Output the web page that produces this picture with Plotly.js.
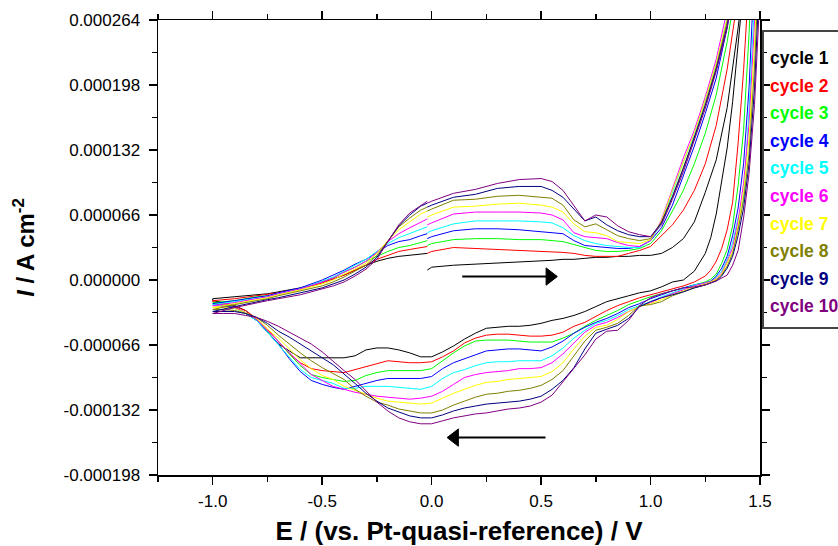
<!DOCTYPE html>
<html><head><meta charset="utf-8">
<script src="https://cdn.plot.ly/plotly-3.0.1.min.js"></script>
<style>html,body{margin:0;padding:0;background:#fff;} #chart{width:838px;height:546px;}</style>
</head><body><div id="chart"></div>
<script>
// ---- data (potential in V, current density in µA cm^-2) ----
const cycleNames = ['cycle 1','cycle 2','cycle 3','cycle 4','cycle 5','cycle 6','cycle 7','cycle 8','cycle 9','cycle 10'];
const cycleColors = ['#000000','#FF0000','#00FF00','#0000FF','#00FFFF','#FF00FF','#FFFF00','#808000','#000080','#800080'];

// forward (anodic) sweep from -0.02 V to the upper vertex
const xForward = [-0.02,0.0,0.1,0.2,0.3,0.4,0.5,0.55,0.6,0.65,0.7,0.75,0.8,0.85,0.9,0.95,1.0,1.05,1.1,1.15,1.2,1.25,1.3,1.35,1.4,1.45];
// reverse (cathodic) sweep from 1.5 V down to -1.0 V
const xReverse = [1.5,1.475,1.45,1.425,1.4,1.375,1.35,1.325,1.3,1.275,1.25,1.2,1.15,1.1,1.05,1.0,0.95,0.9,0.85,0.8,0.75,0.7,0.65,0.6,0.55,0.5,0.45,0.4,0.35,0.3,0.25,0.2,0.15,0.1,0.05,0.0,-0.05,-0.1,-0.15,-0.2,-0.25,-0.3,-0.35,-0.4,-0.45,-0.5,-0.55,-0.6,-0.65,-0.7,-0.75,-0.8,-0.85,-0.9,-0.95,-1.0];
// return (anodic) sweep from -1.0 V back to -0.02 V
const xReturn = [-1.0,-0.9,-0.8,-0.75,-0.7,-0.6,-0.5,-0.45,-0.4,-0.35,-0.3,-0.25,-0.2,-0.15,-0.1,-0.05,-0.02];

const fwdC1  = [10,13,15,16,17,18,19,20,21,21,22,23,23,24,24,25,25,27,33,42,59,89,122,175,256,360];
const fwdC2  = [27,29,33,32,31,30,29,29,28,27,25,24,24,24,27,30,34,45,56,71,91,118,157,214,289,386];
const fwdC3  = [35,37,41,42,42,41,41,40,39,36,33,30,29,29,30,32,37,50,70,91,118,149,188,242,309,396];
const fwdC4  = [42,44,50,52,52,51,49,48,47,40,35,34,33,32,32,34,40,53,76,105,136,169,205,256,325,417];
const fwdC5  = [48,50,57,60,60,60,59,58,53,45,40,37,35,34,33,33,40,58,88,120,147,182,218,266,335,427];
const fwdC6  = [56,58,67,69,69,69,68,66,61,48,44,43,42,38,35,34,40,61,92,124,152,186,224,274,345,437];
const fwdC7  = [64,66,74,75,77,78,76,74,69,57,49,48,45,39,38,37,41,60,91,121,149,183,220,266,335,427];
const fwdC8  = [70,72,81,82,85,86,84,83,76,61,54,57,51,45,42,40,42,59,85,114,144,179,216,262,330,422];
const fwdC9  = [74,76,84,87,93,95,95,91,84,72,60,64,56,50,46,44,44,58,84,113,144,177,214,258,325,417];
const fwdC10 = [78,80,88,92,98,102,103,100,91,75,60,66,64,55,49,46,44,56,82,110,141,174,212,256,325,417];

const revC1  = [450,400,345,298,237,181,134,98,67,43,27,9,0,-2,-7,-11,-13,-16,-19,-22,-27,-32,-36,-39,-41,-44,-46,-47,-47,-48,-49,-54,-60,-67,-73,-78,-78,-74,-71,-69,-69,-71,-77,-79,-79,-79,-79,-79,-72,-65,-53,-40,-31,-26,-23,-21];
const revC2  = [480,400,305,213,139,79,51,32,19,10,4,-2,-6,-9,-12,-15,-18,-22,-26,-31,-37,-43,-47,-53,-56,-57,-57,-56,-55,-55,-56,-59,-64,-72,-78,-83,-84,-84,-83,-82,-85,-88,-91,-94,-93,-92,-90,-84,-75,-62,-50,-39,-31,-27,-24,-22];
const revC3  = [500,375,250,152,96,55,31,17,6,1,-2,-5,-8,-11,-14,-17,-21,-25,-31,-36,-41,-47,-54,-59,-63,-63,-63,-62,-61,-61,-61,-62,-67,-74,-82,-90,-92,-92,-92,-92,-94,-97,-102,-103,-101,-99,-96,-87,-75,-62,-52,-41,-33,-28,-25,-23];
const revC4  = [450,318,195,118,73,45,24,12,4,-1,-3,-5,-8,-11,-15,-19,-24,-28,-34,-39,-43,-48,-54,-62,-68,-72,-71,-70,-70,-71,-72,-76,-80,-84,-90,-98,-100,-100,-100,-100,-102,-105,-108,-111,-109,-106,-102,-93,-80,-65,-53,-41,-34,-28,-26,-24];
const revC5  = [407,284,172,83,63,38,21,9,3,-2,-3,-5,-9,-13,-17,-22,-26,-30,-36,-41,-44,-51,-59,-69,-77,-82,-82,-82,-83,-83,-84,-87,-91,-94,-100,-108,-111,-110,-109,-108,-108,-108,-110,-110,-105,-102,-99,-91,-78,-65,-53,-41,-34,-29,-27,-25];
const revC6  = [385,262,158,98,60,33,19,7,2,-2,-3,-6,-10,-14,-18,-23,-27,-32,-38,-43,-46,-53,-64,-75,-84,-89,-90,-90,-92,-93,-94,-96,-99,-106,-113,-118,-120,-121,-120,-119,-118,-116,-114,-111,-108,-102,-96,-85,-74,-62,-52,-40,-33,-28,-27,-26];
const revC7  = [363,239,143,90,55,29,17,6,1,-2,-4,-7,-11,-15,-20,-24,-27,-32,-40,-46,-48,-57,-70,-84,-93,-98,-99,-100,-101,-103,-104,-107,-111,-115,-120,-125,-126,-125,-124,-123,-120,-116,-112,-108,-101,-97,-90,-81,-70,-59,-50,-39,-33,-29,-28,-28];
const revC8  = [341,216,128,81,51,27,14,5,0,-3,-5,-8,-12,-16,-22,-25,-26,-36,-44,-48,-51,-62,-77,-92,-101,-107,-110,-112,-113,-115,-116,-119,-123,-127,-132,-135,-135,-133,-131,-127,-124,-118,-111,-101,-95,-89,-82,-74,-65,-56,-46,-38,-34,-31,-30,-30];
const revC9  = [318,195,118,73,45,24,12,4,-1,-3,-5,-8,-12,-15,-18,-22,-27,-39,-46,-50,-54,-70,-89,-102,-111,-118,-121,-123,-124,-125,-126,-128,-130,-133,-137,-140,-140,-138,-134,-130,-123,-115,-105,-95,-86,-79,-72,-65,-58,-52,-44,-38,-34,-32,-32,-32];
const revC10 = [292,178,108,63,30,15,5,2,-1,-3,-5,-7,-8,-11,-14,-18,-26,-41,-51,-52,-60,-76,-90,-103,-117,-124,-128,-130,-131,-133,-135,-136,-138,-140,-143,-146,-146,-144,-140,-133,-124,-113,-101,-92,-82,-73,-65,-59,-53,-47,-42,-38,-36,-34,-34,-34];

const retC1  = [-19,-17,-15,-14,-12,-8,-2,1,5,10,15,19,22,24,25,26,27];
const retC2  = [-21,-19,-16,-15,-13,-9,-3,1,5,10,15,21,25,29,31,33,34];
const retC3  = [-23,-21,-17,-16,-14,-9,-2,2,8,13,19,24,29,33,35,38,40];
const retC4  = [-24,-21,-18,-16,-13,-8,0,5,10,16,21,28,35,39,41,45,47];
const retC5  = [-25,-22,-19,-17,-14,-9,-1,3,9,15,21,29,37,43,47,51,54];
const retC6  = [-26,-23,-19,-17,-14,-9,-2,2,8,13,19,28,39,47,53,59,62];
const retC7  = [-28,-24,-20,-18,-15,-10,-4,0,6,11,17,27,40,51,59,67,70];
const retC8  = [-30,-25,-21,-19,-16,-11,-6,-2,3,9,15,25,39,54,63,71,74];
const retC9  = [-32,-27,-22,-20,-18,-13,-8,-4,0,6,13,23,39,55,66,75,78];
const retC10 = [-34,-28,-23,-21,-19,-15,-9,-6,-2,4,11,21,39,56,68,75,80];

// sweep-direction arrows (V, µA cm^-2): tail -> head
const arrowFwdX = [0.14, 0.54];
const arrowFwdY = [3.5, 3.5];
const arrowRevX = [0.52, 0.105];
const arrowRevY = [-160, -160];

const xTickVals = [-1.0,-0.5,0.0,0.5,1.0,1.5];
const xTickText = ['-1.0','-0.5','0.0','0.5','1.0','1.5'];
const xMinorVals = [-1.25,-0.75,-0.25,0.25,0.75,1.25];
const yTickVals = [-0.000198,-0.000132,-0.000066,0,0.000066,0.000132,0.000198,0.000264];
const yTickText = ['-0.000198','-0.000132','-0.000066','0.000000','0.000066','0.000132','0.000198','0.000264'];
const yMinorVals = [-0.000165,-0.000099,-0.000033,0.000033,0.000099,0.000165,0.000231];

// ---- build ----
const fwdAll = [fwdC1,fwdC2,fwdC3,fwdC4,fwdC5,fwdC6,fwdC7,fwdC8,fwdC9,fwdC10];
const revAll = [revC1,revC2,revC3,revC4,revC5,revC6,revC7,revC8,revC9,revC10];
const retAll = [retC1,retC2,retC3,retC4,retC5,retC6,retC7,retC8,retC9,retC10];
const xLoop = xForward.concat(xReverse, xReturn);
const traces = cycleNames.map((name, i) => ({
  type: 'scatter', mode: 'lines', name: name,
  x: xLoop,
  y: fwdAll[i].concat(revAll[i], retAll[i]).map(v => v * 1e-6),
  line: {color: cycleColors[i], width: 1},
  hoverinfo: 'name+x+y'
}));
traces.push({
  type: 'scatter', mode: 'lines+markers', x: arrowFwdX, y: arrowFwdY.map(v => v * 1e-6),
  line: {color: '#000', width: 2}, marker: {symbol: 'triangle-right', size: [0, 15], color: '#000', opacity: 1, line: {width: 1, color: '#000'}},
  hoverinfo: 'skip', showlegend: false
});
traces.push({
  type: 'scatter', mode: 'lines+markers', x: arrowRevX, y: arrowRevY.map(v => v * 1e-6),
  line: {color: '#000', width: 2}, marker: {symbol: 'triangle-left', size: [0, 15], color: '#000', opacity: 1, line: {width: 1, color: '#000'}},
  hoverinfo: 'skip', showlegend: false
});

// legend drawn as coloured text inside a framed box (no line samples in the original)
const plotTopPx = 20, plotH = 455, plotL = 158, plotW = 602;
const legendAnn = cycleNames.map((name, i) => ({
  xref: 'paper', yref: 'paper', x: (768 - plotL) / plotW, y: (475 - (58 + i * 27.6)) / plotH,
  xanchor: 'left', yanchor: 'middle', showarrow: false,
  text: '<b>' + name + '</b>', font: {size: 17.5, color: cycleColors[i]}
}));

const axisCommon = {
  showline: true, linewidth: 1.5, linecolor: '#000', mirror: 'allticks',
  ticks: 'outside', ticklen: 8, tickwidth: 1.5, tickcolor: '#000',
  showgrid: false, zeroline: false, tickmode: 'array'
};

const layout = {
  width: 838, height: 546,
  margin: {l: plotL, r: 838 - plotL - plotW, t: plotTopPx, b: 546 - plotTopPx - plotH},
  paper_bgcolor: '#fff', plot_bgcolor: '#fff',
  font: {family: '"Liberation Sans", Arial, Helvetica, sans-serif', size: 17, color: '#000'},
  showlegend: false,
  xaxis: Object.assign({}, axisCommon, {
    range: [-1.25, 1.5], tickvals: xTickVals, ticktext: xTickText, ticklabelstandoff: 2,
    minor: {tickmode: 'array', tickvals: xMinorVals, ticks: 'outside', ticklen: 5, tickwidth: 1.5, tickcolor: '#000', showgrid: false},
    title: {text: '<b>E / (vs. Pt-quasi-reference) / V</b>', font: {size: 26}, standoff: 16}
  }),
  yaxis: Object.assign({}, axisCommon, {
    range: [-0.000198, 0.000264], tickvals: yTickVals, ticktext: yTickText, ticklabelstandoff: 5,
    minor: {tickmode: 'array', tickvals: yMinorVals, ticks: 'outside', ticklen: 5, tickwidth: 1.5, tickcolor: '#000', showgrid: false},
    title: {text: '<b><i>I</i> / A cm<sup>-2</sup></b>', font: {size: 24}, standoff: 22}
  }),
  shapes: [{type: 'rect', xref: 'paper', yref: 'paper',
    x0: (763 - plotL) / plotW, x1: (850 - plotL) / plotW,
    y0: (475 - 328) / plotH, y1: (475 - 31) / plotH,
    line: {color: '#444', width: 2}, fillcolor: 'rgba(0,0,0,0)'}],
  annotations: legendAnn
};

Plotly.newPlot('chart', traces, layout, {displayModeBar: false, staticPlot: true});
</script>
</body></html>
